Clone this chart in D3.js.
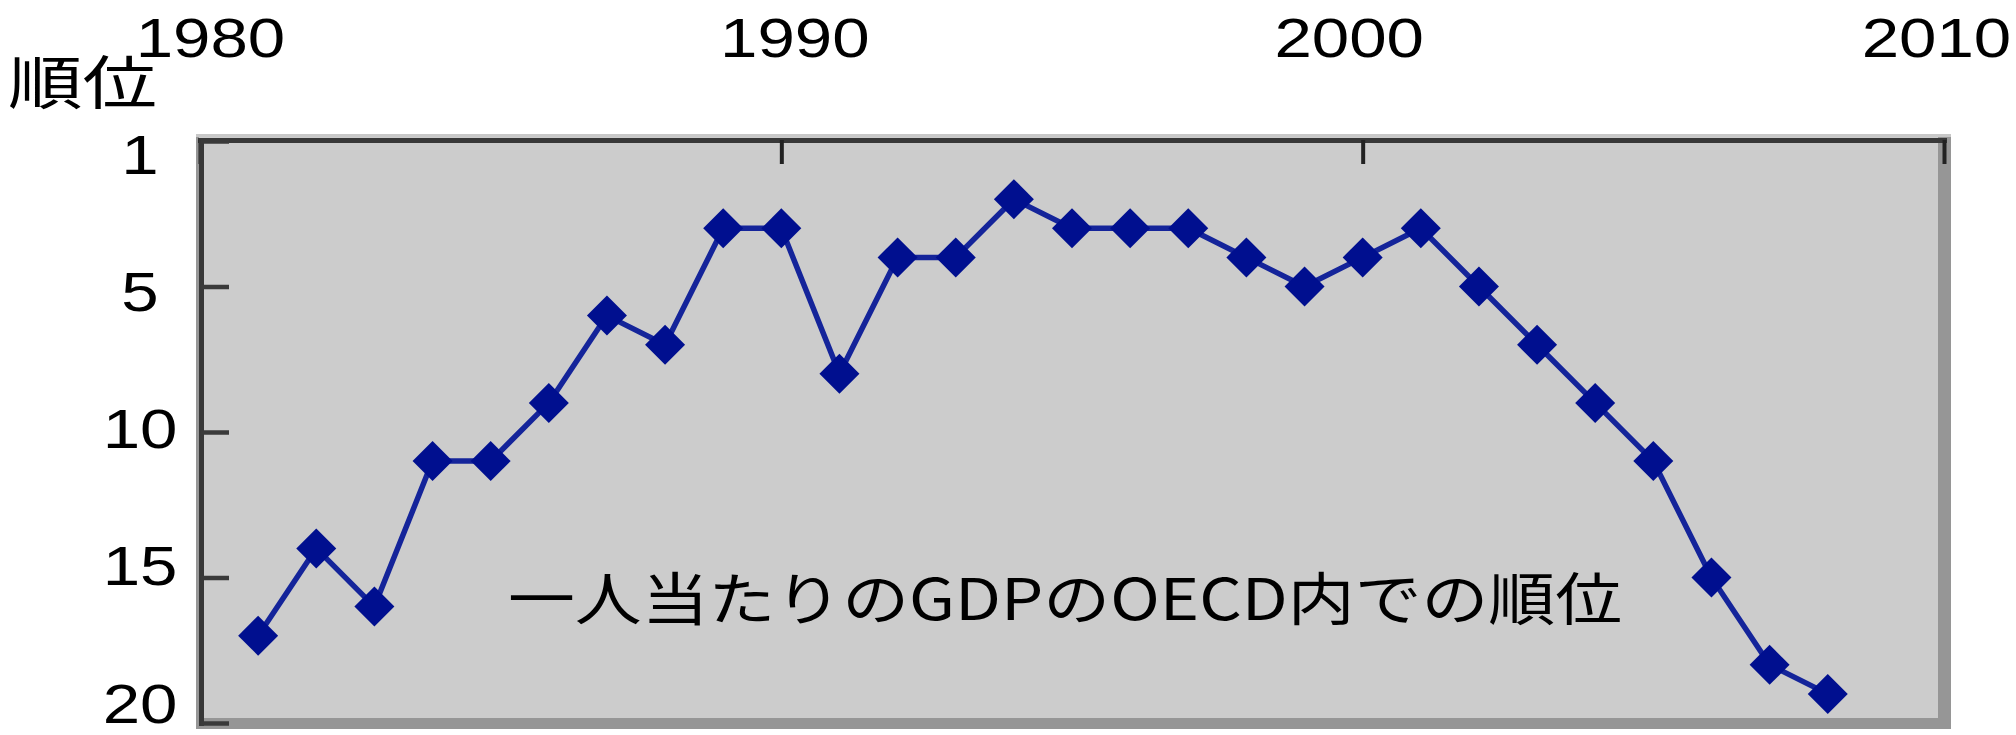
<!DOCTYPE html>
<html><head><meta charset="utf-8">
<script src="https://cdn.jsdelivr.net/npm/d3@7"></script>
<style>
html,body{margin:0;padding:0;background:#fff;overflow:hidden}
.num{font-family:"Liberation Sans","Arimo",Arial,Helvetica,sans-serif;}
.cjk{font-family:"Noto Sans CJK JP",sans-serif;}
</style>
</head><body><svg id="chart" width="2016" height="735"></svg>
<script>
// ---- data ----
const years = [1981,1982,1983,1984,1985,1986,1987,1988,1989,1990,1991,1992,1993,1994,1995,1996,1997,1998,1999,2000,2001,2002,2003,2004,2005,2006,2007,2008];
const ranks = [17,14,16,11,11,9,6,7,3,3,8,4,4,2,3,3,3,4,5,4,3,5,7,9,11,15,18,19];
const xTickValues = [1980,1990,2000,2010];
const xTickLabels = ["1980","1990","2000","2010"];
const yTickValues = [0,5,10,15,20];
const yTickLabels = ["1","5","10","15","20"];
const yAxisTitle = "順位";
const annotation = "一人当たりのGDPのOECD内での順位";

// ---- layout ----
const svg = d3.select("#chart");
const x = d3.scaleLinear().domain([1980, 2010]).range([200, 1944]);
const y = d3.scaleLinear().domain([0, 20]).range([141, 723]);
const yLabelPos = d3.scaleLinear().domain([0, 20]).range([173, 722]);
const xLabelShift = [10, 13, -14, -8];

// frame & plot background
svg.append("rect").attr("x",196).attr("y",134).attr("width",1755).attr("height",595).attr("fill","#969696");
svg.append("rect").attr("x",199).attr("y",137).attr("width",1739).attr("height",581).attr("fill","#cccccc");
svg.append("rect").attr("x",196).attr("y",134).attr("width",1755).attr("height",3).attr("fill","#c8c8c8");

// line + markers
const line = d3.line().x((d,i)=>x(years[i])).y(d=>y(d));
svg.append("path").datum(ranks).attr("d", line)
  .attr("fill","none").attr("stroke","#14249a").attr("stroke-width",5.5).attr("stroke-linejoin","round");
const r = 20;
svg.append("g").selectAll("path").data(ranks).join("path")
  .attr("transform",(d,i)=>`translate(${x(years[i])},${y(d)})`)
  .attr("d",`M0,${-r}L${r},0L0,${r}L${-r},0Z`)
  .attr("fill","#000f8f");

// top axis (years)
const xAxis = d3.axisTop(x).tickValues(xTickValues).tickFormat((d,i)=>xTickLabels[i])
  .tickSizeInner(-24).tickSizeOuter(0).tickPadding(83);
const gx = svg.append("g").attr("transform","translate(0,140)").call(xAxis);
gx.attr("font-family",null);
gx.select(".domain").attr("stroke","#383838").attr("stroke-width",5).attr("stroke-linecap","square");
gx.selectAll(".tick line").attr("stroke","#222").attr("stroke-width",4);
gx.selectAll(".tick text")
  .attr("class","num")
  .attr("x",0).attr("y",0).attr("dy",null)
  .attr("transform",(d,i)=>`translate(${xLabelShift[i]},-83) scale(1.2,1)`)
  .attr("fill","#000").attr("font-size",56).attr("text-anchor","middle");

// left axis (rank)
const yAxis = d3.axisLeft(y).tickValues(yTickValues).tickFormat((d,i)=>yTickLabels[i])
  .tickSizeInner(-28).tickSizeOuter(0).tickPadding(0);
const gy = svg.append("g").attr("transform","translate(201,0)").call(yAxis);
gy.attr("font-family",null);
gy.select(".domain").attr("stroke","#383838").attr("stroke-width",5).attr("stroke-linecap","square");
gy.selectAll(".tick line").attr("stroke","#3a3a3a").attr("stroke-width",4.5);
gy.selectAll(".tick text")
  .attr("class","num")
  .attr("x",0).attr("y",0).attr("dy",null)
  .attr("transform",d=>`translate(-61,${yLabelPos(d)-y(d)}) scale(1.2,1)`)
  .attr("fill","#000").attr("font-size",56).attr("text-anchor","middle");

// axis title
svg.append("text").attr("class","cjk").attr("x",8).attr("y",104).text(yAxisTitle)
  .attr("font-size",58).attr("fill","#000")
  .attr("textLength",149).attr("lengthAdjust","spacingAndGlyphs");

// annotation
svg.append("text").attr("class","cjk").attr("x",508).attr("y",620).text(annotation)
  .attr("font-size",57).attr("fill","#000")
  .attr("textLength",1114).attr("lengthAdjust","spacingAndGlyphs");
</script></body></html>
